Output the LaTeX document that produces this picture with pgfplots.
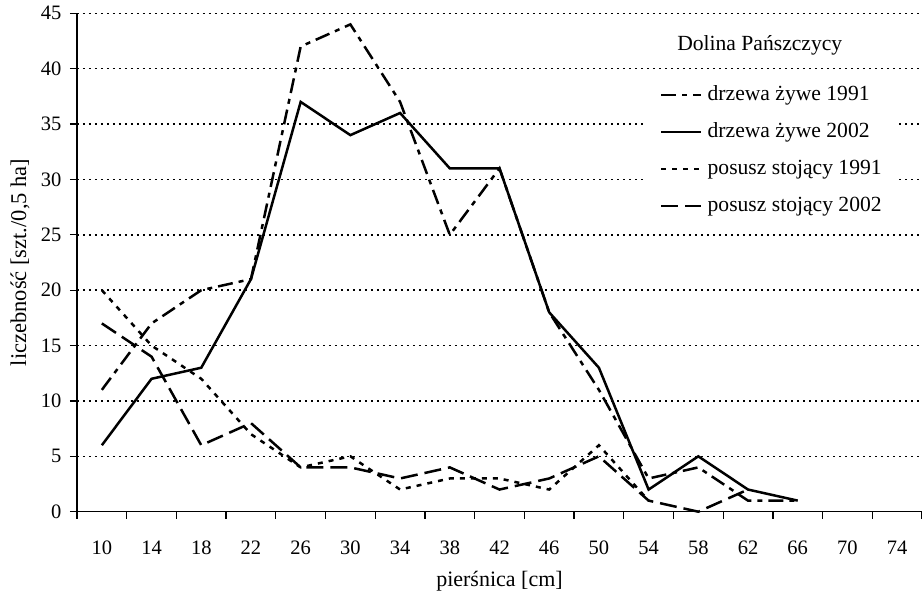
\documentclass[border=0pt]{standalone}
\usepackage{pgfplots}
\pgfplotsset{compat=1.18}
\usepackage{fontspec}
\setmainfont{Liberation Serif}

\pgfplotstableread{
x  zyw91 zyw02
0  11 6
1  17 12
2  20 13
3  21 21
4  42 37
5  44 34
6  37 36
7  25 31
8  31 31
9  18 18
10 11 13
11 3  2
12 4  5
13 1  2
14 1  1
}\zywe

\pgfplotstableread{
x  pos91
0  20
1  15
2  12
3  7
4  4
5  5
6  2
7  3
8  3
9  2
10 6
11 1
}\posA

\pgfplotstableread{
x  pos02
0  17
1  14
2  6
3  8
4  4
5  4
6  3
7  4
8  2
9  3
10 5
11 1
12 0
13 2
}\posB

\begin{document}
\begin{tikzpicture}
\useasboundingbox (-77pt,-88.3pt) rectangle (845pt,511.7pt);
\begin{axis}[
  at={(0pt,0pt)}, anchor=south west,
  scale only axis, width=845pt, height=498.4pt,
  xmin=-0.5, xmax=16.5, ymin=0, ymax=45,
  clip=false,
  axis x line*=bottom, axis y line*=left,
  axis line style={line width=1.4pt, black},
  tick align=outside,
  major tick length=7pt,
  tick style={line width=1.3pt, black},
  ytick={0,5,...,45},
  yticklabel style={xshift=-5pt},
  xtick={-0.5,0.5,...,16.5},
  xticklabels={},
  extra x ticks={0,1,...,16},
  extra x tick labels={10,14,18,22,26,30,34,38,42,46,50,54,58,62,66,70,74},
  extra x tick style={major tick length=0pt, xticklabel style={yshift=-26pt}},
  /pgf/number format/assume math mode=true,
  ticklabel style={font=\fontsize{20.5}{24}\selectfont},
  ymajorgrids,
  major grid style={black, line width=1.4pt, dash pattern=on 1.6pt off 4.4pt},
  xlabel={pierśnica [cm]},
  xlabel style={at={(axis description cs:0.5,-0.14)}, anchor=center, font=\fontsize{22}{26}\selectfont},
  ylabel={liczebność [szt./0,5 ha]},
  ylabel style={at={(axis description cs:-0.0675,0.5)}, anchor=center, font=\fontsize{22.5}{27}\selectfont},
  legend style={at={(axis description cs:0.6698,0.8662)}, anchor=north west,
    draw=none, fill=white, inner xsep=17pt, inner ysep=5pt,
    font=\fontsize{21.6}{26}\selectfont,
    nodes={inner sep=0pt, text height=15pt, text depth=5pt},
    row sep=17pt, column sep=5pt},
  legend cell align=left,
  legend image code/.code={\draw[#1] (0pt,0pt) -- (40pt,0pt);},
  every axis plot/.append style={line width=2.5pt, black},
]
\addplot[dash pattern=on 15pt off 6pt on 5pt off 6pt] table[x=x, y=zyw91] {\zywe};
\addlegendentry{drzewa żywe 1991}
\addplot[solid] table[x=x, y=zyw02] {\zywe};
\addlegendentry{drzewa żywe 2002}
\addplot[dash pattern=on 5pt off 6pt] table[x=x, y=pos91] {\posA};
\addlegendentry{posusz stojący 1991}
\addplot[dash pattern=on 17pt off 7pt] table[x=x, y=pos02] {\posB};
\addlegendentry{posusz stojący 2002}
\node[font=\fontsize{21.6}{26}\selectfont] at (axis description cs:0.808,0.9364) {Dolina Pańszczycy};
\end{axis}
\end{tikzpicture}
\end{document}
